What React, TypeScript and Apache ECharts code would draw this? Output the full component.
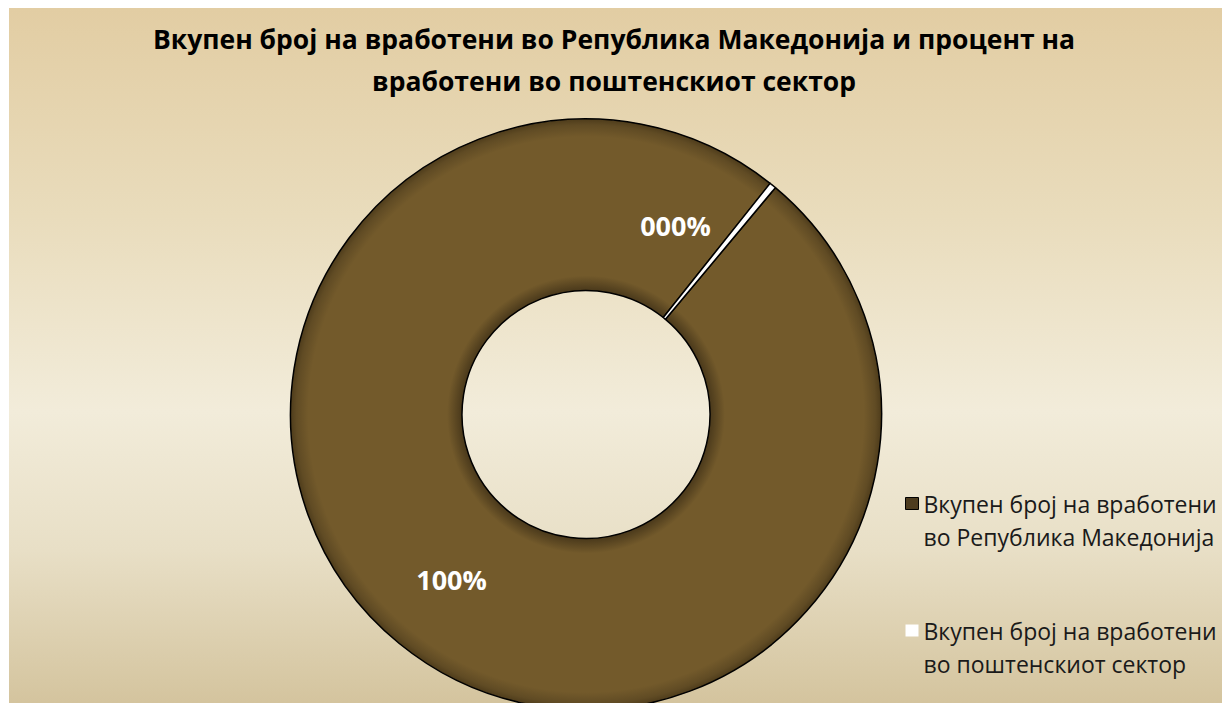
import React, { useEffect, useRef } from "react";
import * as echarts from "echarts";

const titleLines = [
  "Вкупен број на вработени во Република Македонија и процент на",
  "вработени во поштенскиот сектор",
];
const categories = [
  "Вкупен број на вработени во Република Македонија",
  "Вкупен број на вработени во поштенскиот сектор",
];
const employees = [650000, 2400];
const pctLabels = ["100%", "000%"];

const sliceColors = [
  {
    type: "radial",
    x: 0.5,
    y: 0.5,
    r: 0.5,
    colorStops: [
      { offset: 0, color: "#3f2f14" },
      { offset: 0.42, color: "#4a391b" },
      { offset: 0.47, color: "#735a2b" },
      { offset: 0.94, color: "#735a2b" },
      { offset: 0.98, color: "#604b24" },
      { offset: 1, color: "#4e3c1b" },
    ],
  },
  "#ffffff",
];
const legendColors = ["#4d3c1f", "#ffffff"];

export default function App() {
  const ref = useRef<HTMLDivElement>(null);
  useEffect(() => {
    if (!ref.current) return;
    const chart = echarts.init(ref.current, null, { renderer: "svg" });
    chart.setOption({
      animation: false,
      backgroundColor: "transparent",
      title: {
        text: titleLines.join("\n"),
        left: 600,
        top: 5,
        textAlign: "center",
        textStyle: {
          fontFamily: "Open Sans",
          fontWeight: "bold",
          fontSize: 26.5,
          lineHeight: 42,
          color: "#000000",
        },
      },
      legend: {
        orient: "vertical",
        left: 896,
        top: 446,
        padding: 0,
        itemWidth: 13,
        itemHeight: 12,
        itemGap: 28,
        icon: "rect",
        selectedMode: false,
        formatter: (name: string) => "\n" + name.replace(" во ", "\nво "),
        textStyle: {
          fontFamily: "Open Sans",
          fontSize: 23,
          lineHeight: 33,
          color: "#1a1a1a",
        },
        data: categories.map((c, i) => ({
          name: c,
          itemStyle: { color: legendColors[i], borderColor: i === 0 ? "#000" : "#ffffff", borderWidth: i === 0 ? 1 : 0 },
        })),
      },
      series: [
        {
          type: "pie",
          center: [577, 406.5],
          radius: [124, 295.5],
          startAngle: 50.14,
          clockwise: true,
          avoidLabelOverlap: false,
          emphasis: { disabled: true },
          itemStyle: { borderColor: "#000000", borderWidth: 1.5 },
          label: {
            show: true,
            position: "inside",
            fontFamily: "Open Sans",
            fontWeight: "bold",
            fontSize: 27,
            color: "#ffffff",
            formatter: (p: any) => pctLabels[p.dataIndex],
          },
          labelLine: { show: false },
          labelLayout: (p: any) => (p.dataIndex === 1 ? { dx: -45, dy: -24 } : {}),
          data: categories.map((c, i) => ({
            name: c,
            value: employees[i],
            itemStyle: { color: sliceColors[i] },
          })),
        },
      ],
    });
    return () => chart.dispose();
  }, []);
  return (
    <div
      ref={ref}
      style={{
        position: "fixed",
        left: 9,
        top: 8,
        width: 1213,
        height: 695,
        background:
          "linear-gradient(to bottom, #e2cda3 0%, #e9dcbc 30%, #f2ecda 58%, #e8dfc6 78%, #d4c49e 100%)",
      }}
    />
  );
}
